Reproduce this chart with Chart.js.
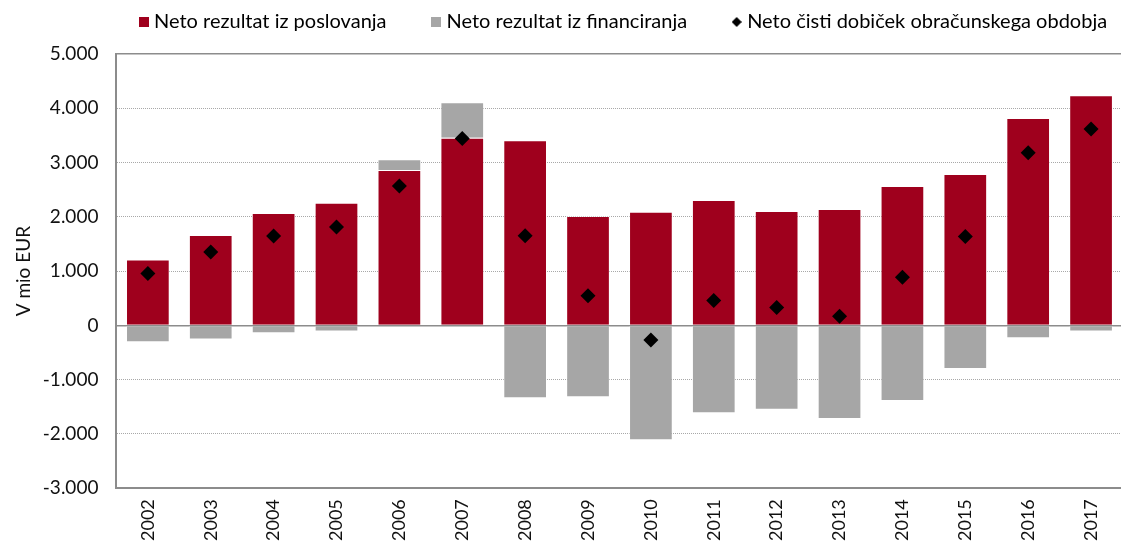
<!DOCTYPE html>
<html>
<head>
<meta charset="utf-8">
<script src="https://cdn.jsdelivr.net/npm/chart.js@4/dist/chart.umd.min.js"></script>
<style>
  html, body { margin: 0; padding: 0; background: #fff; overflow: hidden; }
  #wrap { width: 1130px; height: 542px; }
  canvas { display: block; }
</style>
</head>
<body>
<div id="wrap"><canvas id="c" width="1130" height="542"></canvas></div>
<script>
const years = ['2002','2003','2004','2005','2006','2007','2008','2009','2010','2011','2012','2013','2014','2015','2016','2017'];
const poslovanje = [1214, 1664, 2070, 2260, 2863, 3459, 3410, 2015, 2094, 2310, 2107, 2144, 2568, 2790, 3823, 4240];
const financiranje = [-310, -262, -144, -114, 196, 652, -1340, -1325, -2118, -1620, -1553, -1725, -1393, -803, -236, -114];
const dobicek = [956, 1350, 1646, 1812, 2568, 3441, 1651, 544, -270, 460, 328, 170, 889, 1639, 3183, 3620];
const seriesNames = ['Neto rezultat iz poslovanja', 'Neto rezultat iz financiranja', 'Neto čisti dobiček obračunskega obdobja'];
const yTickValues = [-3000, -2000, -1000, 0, 1000, 2000, 3000, 4000, 5000];
const yTitle = 'V mio EUR';

const RED = '#9F001D';
const GREY = '#A6A6A6';
const FONT = 'Lato';

function fmt(v) {
  const s = Math.abs(v).toString().replace(/\B(?=(\d{3})+(?!\d))/g, '.');
  return (v < 0 ? '-' : '') + s;
}

function iconSquare(color) {
  const c = document.createElement('canvas');
  c.width = 10; c.height = 10;
  const g = c.getContext('2d');
  g.fillStyle = color; g.fillRect(0, 0, 10, 10);
  return c;
}
function iconDiamond(color) {
  const c = document.createElement('canvas');
  c.width = 10; c.height = 10;
  const g = c.getContext('2d');
  g.fillStyle = color;
  g.beginPath(); g.moveTo(5, 0); g.lineTo(10, 5); g.lineTo(5, 10); g.lineTo(0, 5); g.closePath(); g.fill();
  return c;
}
const icons = [iconSquare(RED), iconSquare(GREY), iconDiamond('#000')];

const legendShift = {
  id: 'legendShift',
  afterLayout(chart) {
    const l = chart.legend;
    if (!l) return;
    const S = 94;
    l.left += S; l.right += S;
  }
};

new Chart(document.getElementById('c'), {
  data: {
    labels: years,
    datasets: [
      { type: 'line', label: seriesNames[2], data: dobicek, showLine: false,
        pointStyle: 'rectRot', pointRadius: 7.5, pointHoverRadius: 7.5,
        pointBackgroundColor: '#000', pointBorderColor: '#000', pointBorderWidth: 0,
        stack: 'line', order: 0 },
      { type: 'bar', label: seriesNames[0], data: poslovanje, backgroundColor: RED,
        borderColor: 'rgba(255,255,255,0.45)', borderWidth: 1, stack: 's', order: 1,
        barPercentage: 0.695, categoryPercentage: 1 },
      { type: 'bar', label: seriesNames[1], data: financiranje, backgroundColor: GREY,
        borderColor: 'rgba(255,255,255,0.45)', borderWidth: 1, stack: 's', order: 2,
        barPercentage: 0.695, categoryPercentage: 1 }
    ]
  },
  options: {
    responsive: false,
    animation: false,
    layout: { padding: { top: -37, left: 0, right: 0, bottom: -10 } },
    plugins: {
      tooltip: { enabled: false },
      title: { display: true, text: '', position: 'top', weight: 500, padding: 0,
               font: { size: 12, lineHeight: 1 } },
      legend: {
        display: true, position: 'top', align: 'start',
        labels: {
          usePointStyle: true, boxWidth: 1, boxHeight: 10, padding: 49,
          color: '#111', font: { family: FONT, size: 20 },
          generateLabels() {
            return [0, 1, 2].map(i => ({
              text: seriesNames[i], pointStyle: icons[i], fillStyle: 'transparent',
              strokeStyle: 'transparent', lineWidth: 0, hidden: false,
              datasetIndex: i === 2 ? 0 : i + 1
            }));
          }
        }
      }
    },
    scales: {
      x: {
        stacked: true,
        grid: { display: false, drawTicks: false },
        border: { display: true, color: '#8C8C8C', width: 2 },
        ticks: { minRotation: 90, maxRotation: 90, padding: 11, color: '#111',
                 font: { family: FONT, size: 18 } }
      },
      y: {
        stacked: true,
        min: -3000, max: 5000,
        afterBuildTicks(scale) { scale.ticks = yTickValues.map(v => ({ value: v })); },
        grid: {
          drawTicks: false,
          color(ctx) {
            const v = ctx.tick && ctx.tick.value;
            if (v === 0 || v === 5000 || v === -3000) return '#8C8C8C';
            return '#A8A8A8';
          },
          lineWidth(ctx) {
            const v = ctx.tick && ctx.tick.value;
            if (v === 0 || v === 5000) return 1.5;
            return 1;
          }
        },
        border: {
          display: true, color: '#8C8C8C', width: 2,
          dash(ctx) {
            const v = ctx.tick && ctx.tick.value;
            if (v === 0 || v === 5000 || v === -3000) return [];
            return [1, 1];
          }
        },
        ticks: { padding: 18, color: '#111', font: { family: FONT, size: 19 },
                 callback: (v) => fmt(v) },
        title: { display: true, text: yTitle, color: '#111',
                 font: { family: FONT, size: 19 }, padding: { top: 12, bottom: -10 } }
      }
    }
  },
  plugins: [legendShift]
});
</script>
</body>
</html>
